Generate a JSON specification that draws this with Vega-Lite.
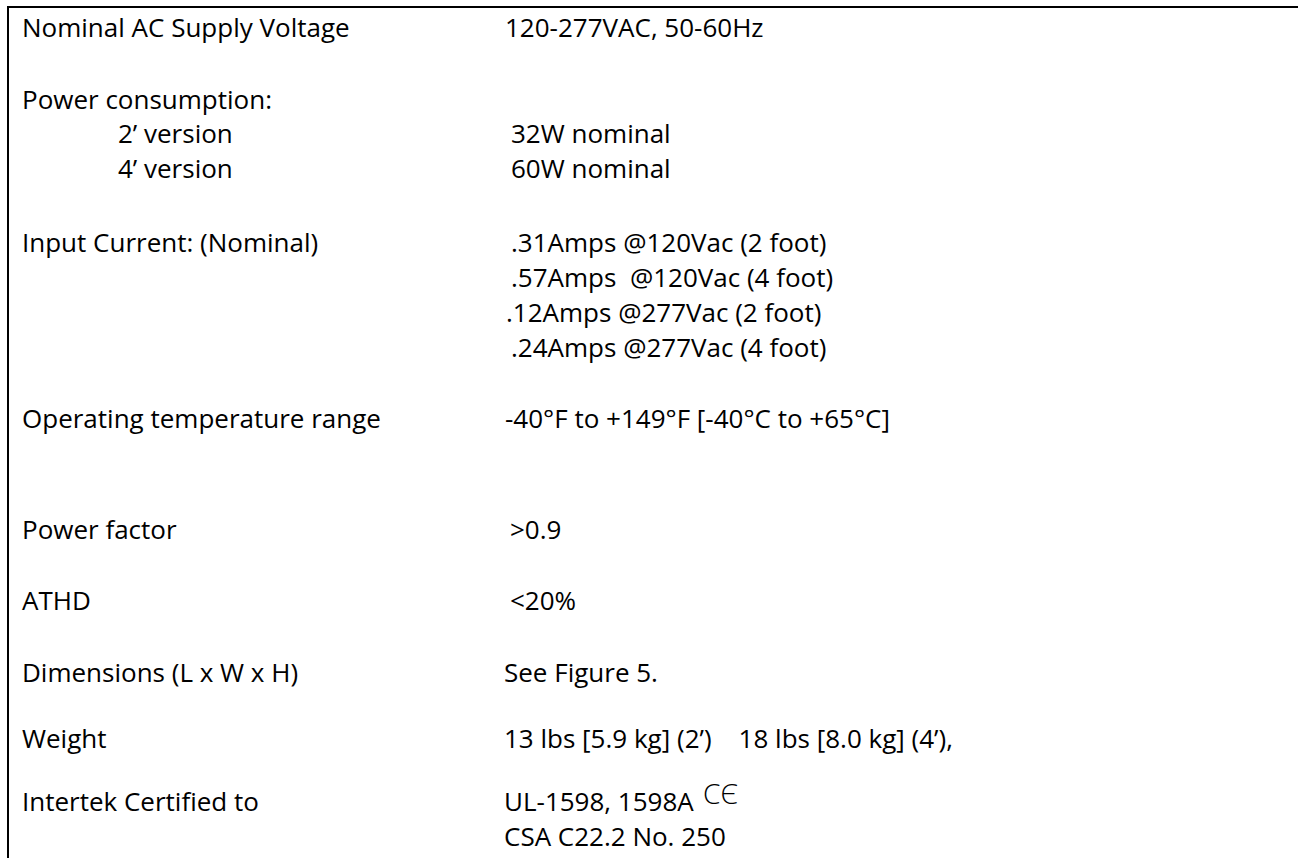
{
  "$schema": "https://vega.github.io/schema/vega-lite/v6.json",
  "width": 1298,
  "height": 858,
  "padding": 0,
  "autosize": {"type": "fit", "contains": "padding"},
  "background": "white",
  "config": {"view": {"stroke": null}},
  "datasets": {
    "rows": [
      {"x": 22, "y": 37, "text": "Nominal AC Supply Voltage"},
      {"x": 505, "y": 37, "text": "120-277VAC, 50-60Hz"},
      {"x": 22, "y": 109, "text": "Power consumption:"},
      {"x": 118, "y": 143, "text": "2’ version"},
      {"x": 511, "y": 143, "text": "32W nominal"},
      {"x": 118, "y": 178, "text": "4’ version"},
      {"x": 511, "y": 178, "text": "60W nominal"},
      {"x": 22, "y": 252, "text": "Input Current: (Nominal)"},
      {"x": 511, "y": 252, "text": ".31Amps @120Vac (2 foot)"},
      {"x": 511, "y": 287, "text": ".57Amps\u00a0 @120Vac (4 foot)"},
      {"x": 506, "y": 322, "text": ".12Amps @277Vac (2 foot)"},
      {"x": 511, "y": 357, "text": ".24Amps @277Vac (4 foot)"},
      {"x": 22, "y": 428, "text": "Operating temperature range"},
      {"x": 505, "y": 428, "text": "-40°F to +149°F [-40°C to +65°C]"},
      {"x": 22, "y": 539, "text": "Power factor"},
      {"x": 510, "y": 539, "text": ">0.9"},
      {"x": 22, "y": 610, "text": "ATHD"},
      {"x": 510, "y": 610, "text": "<20%"},
      {"x": 22, "y": 682, "text": "Dimensions (L x W x H)"},
      {"x": 504, "y": 682, "text": "See Figure 5."},
      {"x": 22, "y": 748, "text": "Weight"},
      {"x": 504, "y": 748, "text": "13 lbs [5.9 kg] (2’)\u00a0\u00a0\u00a0 18 lbs [8.0 kg] (4’),"},
      {"x": 22, "y": 811, "text": "Intertek Certified to"},
      {"x": 504, "y": 811, "text": "UL-1598, 1598A"},
      {"x": 504, "y": 846, "text": "CSA C22.2 No. 250"}
    ]
  },
  "layer": [
    {
      "data": {"name": "rows"},
      "mark": {"type": "text", "align": "left", "baseline": "alphabetic", "font": "Open Sans", "fontSize": 26, "color": "black"},
      "encoding": {
        "x": {"field": "x", "type": "quantitative", "scale": {"domain": [0, 1298], "range": [0, 1298], "nice": false, "zero": false}, "axis": null},
        "y": {"field": "y", "type": "quantitative", "scale": {"domain": [0, 858], "range": [0, 858], "nice": false, "zero": false}, "axis": null},
        "text": {"field": "text"}
      }
    },
    {
      "data": {"values": [{"x": 703, "y": 804, "text": "CЄ"}]},
      "mark": {"type": "text", "align": "left", "baseline": "alphabetic", "font": "Open Sans", "fontSize": 28, "fontWeight": 300, "color": "black"},
      "encoding": {
        "x": {"field": "x", "type": "quantitative", "axis": null},
        "y": {"field": "y", "type": "quantitative", "axis": null},
        "text": {"field": "text"}
      }
    },
    {
      "data": {"values": [{"x": 7, "x2": 1298, "y": 7, "y2": 7}, {"x": 8, "x2": 8, "y": 6, "y2": 858}]},
      "mark": {"type": "rule", "color": "black", "strokeWidth": 2},
      "encoding": {
        "x": {"field": "x", "type": "quantitative", "axis": null},
        "x2": {"field": "x2"},
        "y": {"field": "y", "type": "quantitative", "axis": null},
        "y2": {"field": "y2"}
      }
    }
  ]
}
